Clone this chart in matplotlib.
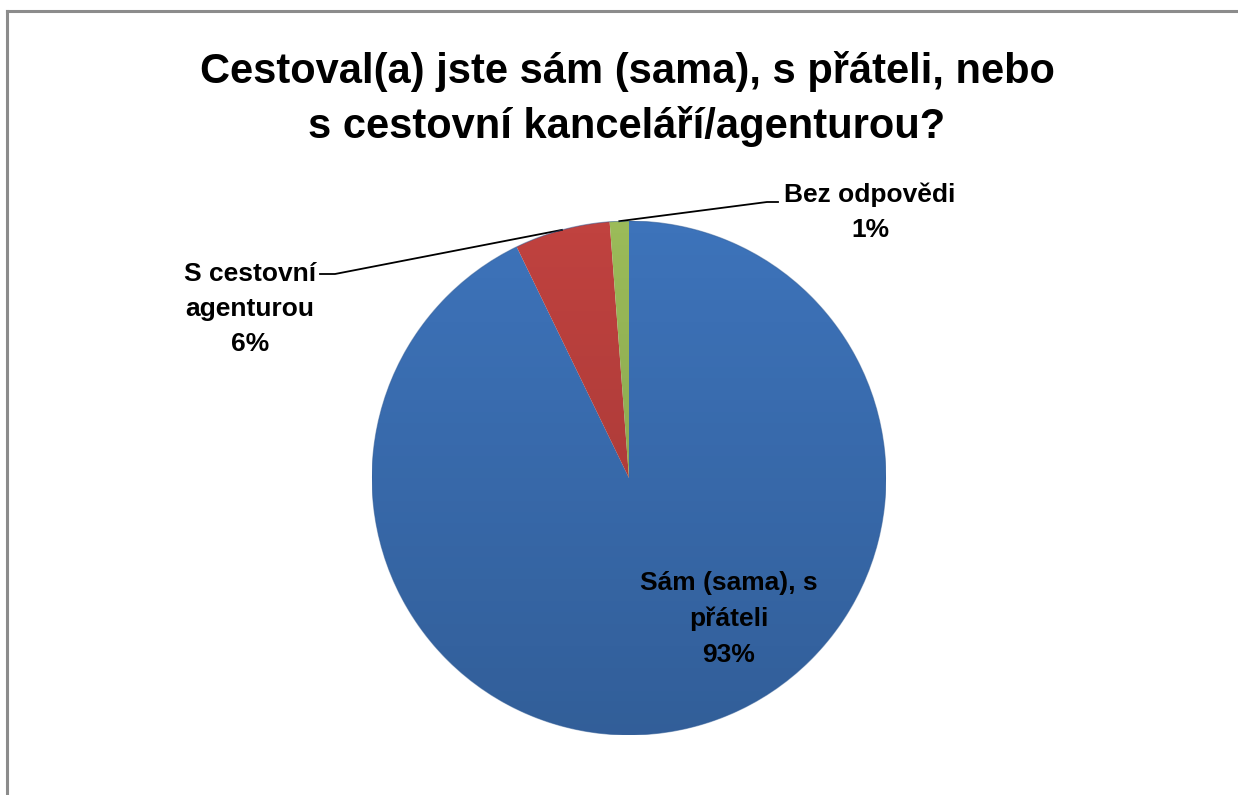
import matplotlib
matplotlib.use("Agg")
import matplotlib.pyplot as plt
import numpy as np
from matplotlib.lines import Line2D
from matplotlib.patches import Circle

title = "Cestoval(a) jste sám (sama), s přáteli, nebo\ns cestovní kanceláří/agenturou?"
labels = ["Sám (sama), s\npřáteli", "S cestovní\nagenturou", "Bez odpovědi"]
values = [92.8, 6.0, 1.2]
pct_text = ["93%", "6%", "1%"]
colors = ["#3D73BA", "#C0423F", "#9BBB59"]

plt.rcParams["font.family"] = ["Liberation Sans", "DejaVu Sans"]

W, H = 1238, 795
fig = plt.figure(figsize=(W / 100, H / 100), dpi=100)
fig.patch.set_facecolor("white")

# chart frame (only top/left edges are visible in the crop)
fig.add_artist(Line2D([6.5 / W, 6.5 / W], [0, 1 - 11 / H], transform=fig.transFigure,
                      color="#8C8C8C", lw=2.2))
fig.add_artist(Line2D([6.5 / W, 1], [1 - 11 / H, 1 - 11 / H], transform=fig.transFigure,
                      color="#8C8C8C", lw=2.2))

fig.text(627 / W, 1 - 99 / H, title, ha="center", va="center", fontsize=30,
         fontweight="bold", linespacing=1.45)

cx, cy, r = 629, 478, 257
ax = fig.add_axes([(cx - r) / W, (H - cy - r) / H, 2 * r / W, 2 * r / H])
ax.set_xlim(-1, 1)
ax.set_ylim(-1, 1)
ax.set_aspect("equal")
ax.axis("off")

wedges, _ = ax.pie(values, colors=colors, startangle=90, counterclock=False,
                   radius=1, wedgeprops=dict(linewidth=0))

# soft shading over the pie
grad = np.linspace(0, 1, 256).reshape(-1, 1)
shade = np.zeros((256, 1, 4))
shade[..., 3] = 0.18 * grad
img = ax.imshow(shade, extent=[-1, 1, -1, 1], origin="upper", aspect="auto", zorder=3)
img.set_clip_path(Circle((0, 0), 1, transform=ax.transData))
ax.add_patch(Circle((0, 0), 1, fill=False, ec="#2E5A94", lw=0.8, alpha=0.5, zorder=4))
ax.set_xlim(-1, 1)
ax.set_ylim(-1, 1)

lab_font = dict(fontsize=19, fontweight="bold", ha="center", va="center",
                linespacing=1.6)

# big slice label inside
ax.text((729 - cx) / r, (cy - 619) / r, labels[0] + "\n" + pct_text[0], **lab_font)


def mid_xy(w):
    a = np.deg2rad((w.theta1 + w.theta2) / 2)
    return np.cos(a), np.sin(a)


# S cestovní agenturou
x0, y0 = mid_xy(wedges[1])
ex, ey = (335 - cx) / r, (cy - 274) / r
ax.plot([x0, ex, (320 - cx) / r], [y0, ey, ey], color="black", lw=1.3, clip_on=False)
ax.text((250 - cx) / r, (cy - 309) / r, labels[1] + "\n" + pct_text[1], **lab_font)

# Bez odpovědi
x0, y0 = mid_xy(wedges[2])
ex, ey = (767 - cx) / r, (cy - 202) / r
ax.plot([x0, ex, (778 - cx) / r], [y0, ey, ey], color="black", lw=1.3, clip_on=False)
ax.text((870 - cx) / r, (cy - 212) / r, labels[2] + "\n" + pct_text[2], **lab_font)

fig.savefig("out.png", dpi=100)
